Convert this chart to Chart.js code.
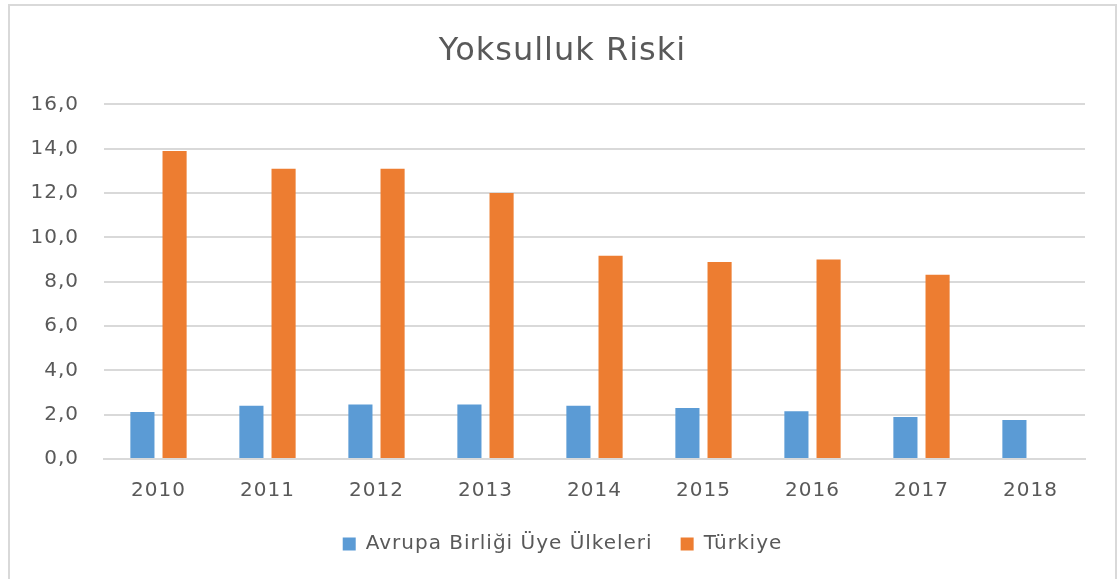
<!DOCTYPE html>
<html>
<head>
<meta charset="utf-8">
<script src="https://cdn.jsdelivr.net/npm/chart.js@4/dist/chart.umd.min.js"></script>
<style>
  body { margin: 0; background: #fff; }
  #frame {
    position: absolute; left: 8px; top: 4px;
    width: 1109px; height: 580px;
    border: 2px solid #d9d9d9; box-sizing: border-box;
  }
  #chart { display: block; }
</style>
</head>
<body>
<div id="frame"><canvas id="chart" width="1105" height="576"></canvas></div>
<script>
const years = ["2010", "2011", "2012", "2013", "2014", "2015", "2016", "2017", "2018"];
const abValues = [2.12, 2.40, 2.46, 2.46, 2.40, 2.30, 2.16, 1.90, 1.76];
const turkiyeValues = [13.9, 13.1, 13.1, 12.0, 9.17, 8.89, 9.0, 8.31, null];
const yTicks = [0, 2, 4, 6, 8, 10, 12, 14, 16];

const ctx = document.getElementById("chart");
const textColor = "#595959";
const fontFamily = "'DejaVu Sans', sans-serif";

// the source text is a bit wider than DejaVu, so spread letters by 1px
const spacingPlugin = {
    id: "spacing",
    beforeLayout: (chart) => { chart.ctx.letterSpacing = "1px"; },
    beforeDraw: (chart) => { chart.ctx.letterSpacing = "1px"; },
};

let myChart = new Chart(ctx, {
    type: "bar",
    plugins: [spacingPlugin],
    data: {
        labels: years,
        datasets: [
            {
                label: "Avrupa Birliği Üye Ülkeleri",
                data: abValues,
                backgroundColor: "#5b9bd5",
                barPercentage: 0.75,
                categoryPercentage: 0.59,
            },
            {
                label: "Türkiye",
                data: turkiyeValues,
                backgroundColor: "#ed7d31",
                barPercentage: 0.75,
                categoryPercentage: 0.59,
            },
        ],
    },
    options: {
        responsive: false,
        animation: false,
        layout: { padding: { left: 15, right: 15, top: 10, bottom: 18 } },
        plugins: {
            tooltip: false,
            title: {
                display: true,
                text: "Yoksulluk Riski",
                color: textColor,
                font: { family: fontFamily, size: 32, weight: "normal" },
                padding: { top: 16, bottom: 34 },
            },
            legend: {
                position: "bottom",
                labels: {
                    color: textColor,
                    font: { family: fontFamily, size: 20 },
                    boxWidth: 13,
                    boxHeight: 13,
                    padding: 28,
                },
            },
        },
        scales: {
            x: {
                grid: { display: false },
                border: { color: "#d9d9d9", width: 2 },
                ticks: { color: textColor, font: { family: fontFamily, size: 20, lineHeight: 1 }, padding: 14 },
                afterFit: (axis) => { axis.height = 47; },
            },
            y: {
                min: 0,
                max: 16,
                afterBuildTicks: (axis) => { axis.ticks = yTicks.map(v => ({ value: v })); },
                grid: { color: "#d9d9d9", lineWidth: 2, drawTicks: false },
                border: { display: false },
                ticks: {
                    color: textColor,
                    font: { family: fontFamily, size: 20 },
                    padding: 25,
                    callback: (v) => v.toFixed(1).replace(".", ","),
                },
                afterFit: (axis) => { axis.width = 79; },
            },
            // empty strip on the right so the plot sits like the original
            yRight: {
                position: "right",
                grid: { display: false },
                border: { display: false },
                ticks: { display: false },
                afterFit: (axis) => { axis.width = 15; },
            },
        },
    },
});
</script>
</body>
</html>
